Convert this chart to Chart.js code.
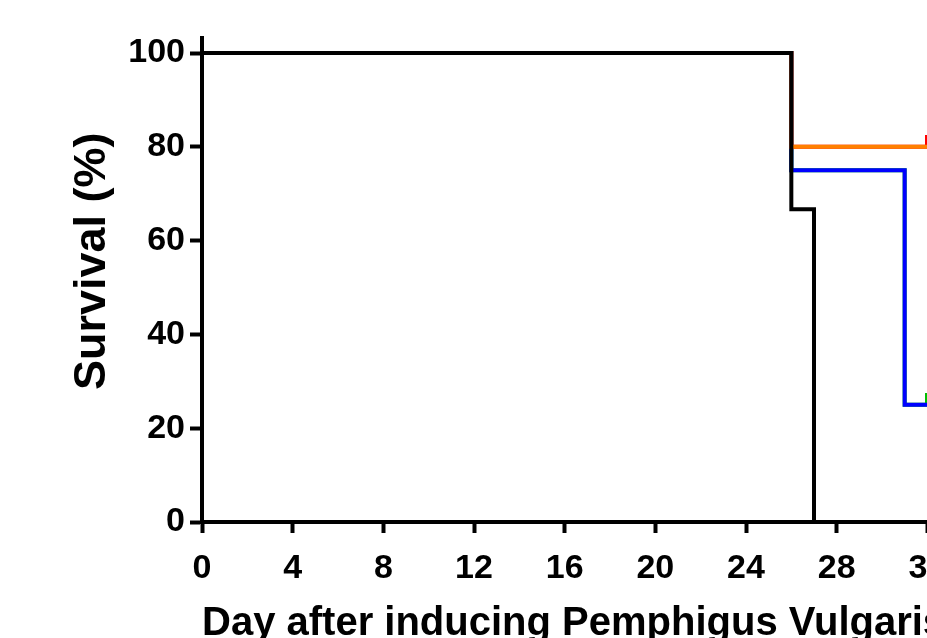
<!DOCTYPE html>
<html>
<head>
<meta charset="utf-8">
<script src="https://cdn.jsdelivr.net/npm/chart.js@4"></script>
<style>
  html, body { margin: 0; padding: 0; background: #fff; overflow: hidden; }
  #wrap { width: 927px; height: 638px; overflow: hidden; }
</style>
</head>
<body>
<div id="wrap"><canvas id="survivalChart" width="1060" height="638"></canvas></div>
<script>
// survival curves (day, percent)
const blackDays = [0, 26, 27];
const blackSurv = [100, 66.7, 0];
const orangeDays = [0, 26, 34];
const orangeSurv = [100, 80, 80];
const blueDays = [0, 26, 31, 34];
const blueSurv = [100, 75, 25, 25];
const redDays = [0, 26, 32];
const redSurv = [100, 80, 80];
const greenDays = [0, 26, 31, 32];
const greenSurv = [100, 75, 25, 25];
// censored observations
const redCensor = [32];
const greenCensor = [32];

const xTicks = [0, 4, 8, 12, 16, 20, 24, 28, 32, 36];
const yTicks = [0, 20, 40, 60, 80, 100];

const fontFamily = "Arial, 'Liberation Sans', sans-serif";

// small vertical censor tick, drawn upward from the curve
function censorMark(color) {
    const c = document.createElement('canvas');
    c.width = 4;
    c.height = 24;
    const g = c.getContext('2d');
    g.fillStyle = color;
    g.fillRect(0, 0, 4, 13);
    return c;
}

function makePoints(days, surv) {
    return days.map((d, i) => ({ x: d, y: surv[i] }));
}

function makeSet(days, surv, color, censor) {
    const mark = censorMark(color);
    const cens = censor || [];
    return {
        data: makePoints(days, surv),
        borderColor: color,
        backgroundColor: color,
        borderWidth: 4,
        stepped: true,
        fill: false,
        borderJoinStyle: 'miter',
        pointRadius: ctx => cens.includes(days[ctx.dataIndex]) ? 6 : 0,
        pointStyle: ctx => cens.includes(days[ctx.dataIndex]) ? mark : 'circle',
        pointHoverRadius: 0
    };
}

const ctx = document.getElementById('survivalChart').getContext('2d');
new Chart(ctx, {
    type: 'line',
    data: {
        datasets: [
            makeSet(blackDays, blackSurv, '#000000'),
            makeSet(orangeDays, orangeSurv, '#FF8000'),
            makeSet(blueDays, blueSurv, '#0000FF'),
            makeSet(redDays, redSurv, '#FF0000', redCensor),
            makeSet(greenDays, greenSurv, '#00C000', greenCensor)
        ]
    },
    options: {
        responsive: false,
        animation: false,
        layout: {
            padding: { top: 38, right: 42, bottom: 0, left: 0 }
        },
        plugins: {
            legend: { display: false },
            tooltip: { enabled: false }
        },
        scales: {
            x: {
                type: 'linear',
                min: 0,
                max: 36,
                afterBuildTicks: scale => { scale.ticks = xTicks.map(v => ({ value: v })); },
                afterFit: scale => { scale.height = 116; },
                grid: {
                    drawOnChartArea: false,
                    drawTicks: true,
                    tickLength: 11,
                    tickWidth: 4,
                    tickColor: '#000'
                },
                border: { display: true, color: '#000', width: 4 },
                ticks: {
                    color: '#000',
                    padding: 15,
                    maxRotation: 0,
                    autoSkip: false,
                    font: { family: fontFamily, size: 34, weight: 'bold' }
                },
                title: {
                    display: true,
                    text: 'Day after inducing Pemphigus Vulgaris',
                    align: 'start',
                    color: '#000',
                    padding: { top: 0, bottom: 0 },
                    font: { family: fontFamily, size: 40, weight: 'bold', lineHeight: 0.7 }
                }
            },
            y: {
                min: 0,
                max: 103.2,
                afterBuildTicks: scale => { scale.ticks = yTicks.map(v => ({ value: v })); },
                afterFit: scale => { scale.width = 202; },
                grid: {
                    drawOnChartArea: false,
                    drawTicks: true,
                    tickLength: 12,
                    tickWidth: 4,
                    tickColor: '#000'
                },
                border: { display: true, color: '#000', width: 4 },
                ticks: {
                    color: '#000',
                    padding: 5,
                    font: { family: fontFamily, size: 34, weight: 'bold' }
                },
                title: {
                    display: true,
                    text: '   Survival (%)',
                    color: '#000',
                    padding: { top: 70, bottom: 0 },
                    font: { family: fontFamily, size: 45, weight: 'bold', lineHeight: 1 }
                }
            }
        }
    }
});
</script>
</body>
</html>
